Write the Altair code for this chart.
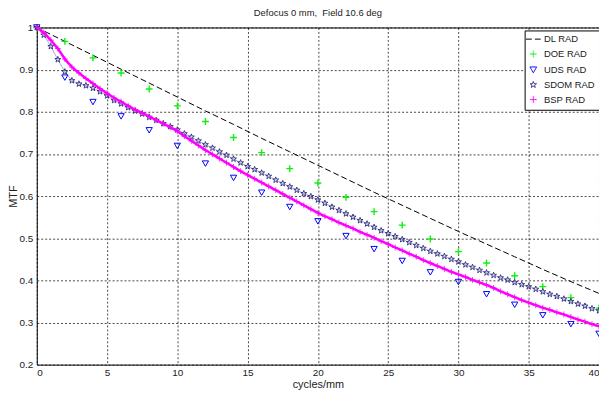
import altair as alt
import pandas as pd

series_names = ["DL RAD", "DOE RAD", "UDS RAD", "SDOM RAD", "BSP RAD"]

# Diffraction limit (dashed line), every 2 cycles/mm
dl_x = [0, 2, 4, 6, 8, 10, 12, 14, 16, 18, 20, 22, 24, 26, 28, 30, 32, 34, 36, 38, 40]
dl_y = [1.0, 0.967, 0.934, 0.901, 0.868, 0.835, 0.802, 0.770, 0.737, 0.705, 0.673,
        0.641, 0.609, 0.578, 0.547, 0.516, 0.486, 0.456, 0.426, 0.397, 0.369]

# DOE markers (+), every 2 cycles/mm
doe_x = [0, 2, 4, 6, 8, 10, 12, 14, 16, 18, 20, 22, 24, 26, 28, 30, 32, 34, 36, 38, 40]
doe_y = [1.0, 0.967, 0.928, 0.892, 0.854, 0.814, 0.777, 0.739, 0.703, 0.665, 0.631,
         0.597, 0.563, 0.531, 0.498, 0.468, 0.441, 0.411, 0.385, 0.359, 0.334]

# UDS markers (triangle down), every 2 cycles/mm
uds_x = [0, 2, 4, 6, 8, 10, 12, 14, 16, 18, 20, 22, 24, 26, 28, 30, 32, 34, 36, 38, 40]
uds_y = [1.0, 0.881, 0.823, 0.789, 0.756, 0.719, 0.677, 0.643, 0.608, 0.574, 0.540,
         0.505, 0.474, 0.446, 0.419, 0.396, 0.367, 0.342, 0.317, 0.296, 0.273]

# SDOM and BSP, every 0.5 cycles/mm
dense_x = [i * 0.5 for i in range(81)]
sdom_y = [1.0, 0.982, 0.955, 0.924, 0.895, 0.874, 0.866, 0.862, 0.856, 0.848,
          0.838, 0.827, 0.819, 0.810, 0.802, 0.795, 0.787, 0.780, 0.772, 0.765,
          0.757, 0.748, 0.740, 0.731, 0.722, 0.714, 0.705, 0.697, 0.688, 0.679,
          0.670, 0.663, 0.655, 0.647, 0.638, 0.630, 0.622, 0.614, 0.606, 0.599,
          0.591, 0.583, 0.574, 0.566, 0.558, 0.550, 0.542, 0.534, 0.526, 0.518,
          0.511, 0.504, 0.497, 0.490, 0.483, 0.476, 0.469, 0.463, 0.457, 0.450,
          0.444, 0.437, 0.431, 0.424, 0.418, 0.412, 0.406, 0.401, 0.395, 0.390,
          0.385, 0.379, 0.373, 0.367, 0.362, 0.356, 0.350, 0.344, 0.339, 0.333,
          0.328]
bsp_y = [1.0, 0.988, 0.970, 0.950, 0.925, 0.906, 0.892, 0.879, 0.867, 0.855,
         0.844, 0.833, 0.824, 0.814, 0.805, 0.797, 0.789, 0.780, 0.772, 0.763,
         0.754, 0.742, 0.731, 0.720, 0.709, 0.699, 0.689, 0.679, 0.669, 0.659,
         0.650, 0.641, 0.632, 0.623, 0.614, 0.605, 0.596, 0.587, 0.578, 0.569,
         0.560, 0.552, 0.545, 0.537, 0.530, 0.523, 0.515, 0.508, 0.501, 0.493,
         0.486, 0.478, 0.471, 0.463, 0.456, 0.448, 0.441, 0.434, 0.427, 0.420,
         0.414, 0.408, 0.401, 0.395, 0.389, 0.382, 0.374, 0.367, 0.360, 0.353,
         0.347, 0.341, 0.335, 0.330, 0.324, 0.319, 0.313, 0.307, 0.302, 0.296,
         0.291]

x_ticks = [0, 5, 10, 15, 20, 25, 30, 35, 40]
y_ticks = [0.2, 0.3, 0.4, 0.5, 0.6, 0.7, 0.8, 0.9, 1.0]

rows = []
for xs, ys, name in [(dl_x, dl_y, "DL RAD"), (doe_x, doe_y, "DOE RAD"), (uds_x, uds_y, "UDS RAD"),
                     (dense_x, sdom_y, "SDOM RAD"), (dense_x, bsp_y, "BSP RAD")]:
    for a, b in zip(xs, ys):
        rows.append({"x": a, "y": b, "series": name})
df = pd.DataFrame(rows)

dl_path = "M-2.2,0L2.2,0"
plus_path = "M-1,0L1,0M0,-1L0,1"
star_path = ("M0,-1L0.235,-0.324L0.951,-0.309L0.380,0.124L0.588,0.809L0,0.4"
             "L-0.588,0.809L-0.380,0.124L-0.951,-0.309L-0.235,-0.324Z")

colors = ["#000000", "#11ee11", "#0000ff", "#2a2a80", "#ff00ff"]
shapes = [dl_path, plus_path, "triangle-down", star_path, plus_path]
dashes = [[6, 3], [1, 0], [1, 0], [1, 0], [1, 0]]

legend = alt.Legend(title=None, orient="none", legendX=492, legendY=3,
                    direction="vertical", strokeColor="#000000", fillColor="#ffffff",
                    padding=4, labelFont="Liberation Sans", labelFontSize=9.5,
                    labelColor="#222222", symbolStrokeWidth=1, symbolSize=46,
                    rowPadding=4, labelOffset=6, cornerRadius=0)

color_enc = alt.Color("series:N", scale=alt.Scale(domain=series_names, range=colors), legend=legend)
shape_enc = alt.Shape("series:N", scale=alt.Scale(domain=series_names, range=shapes), legend=legend)
dash_enc = alt.StrokeDash("series:N", scale=alt.Scale(domain=series_names, range=dashes), legend=legend)

x_enc = alt.X("x:Q", scale=alt.Scale(domain=[0, 40], nice=False, zero=False),
              axis=alt.Axis(values=x_ticks, title="cycles/mm", format="~g"))
y_enc = alt.Y("y:Q", scale=alt.Scale(domain=[0.2, 1.0], nice=False, zero=False),
              axis=alt.Axis(values=y_ticks, title="MTF", format="~g"))

base = alt.Chart(df)


def only(name):
    return base.transform_filter(alt.datum.series == name)


line_dl = only("DL RAD").mark_line(strokeWidth=1, strokeDash=[9, 5]).encode(
    x=x_enc, y=y_enc, color=color_enc, strokeDash=dash_enc, order=alt.Order("x:Q"))
line_sdom = only("SDOM RAD").mark_line(strokeWidth=0.6, opacity=0.7).encode(
    x=x_enc, y=y_enc, color=color_enc, strokeDash=dash_enc, order=alt.Order("x:Q"))
line_bsp = only("BSP RAD").mark_line(strokeWidth=2.5).encode(
    x=x_enc, y=y_enc, color=color_enc, strokeDash=dash_enc, order=alt.Order("x:Q"))

pts_doe = only("DOE RAD").mark_point(filled=False, strokeWidth=1.4, size=48, opacity=1).encode(
    x=x_enc, y=y_enc, color=color_enc, shape=shape_enc)
pts_uds = only("UDS RAD").mark_point(filled=False, strokeWidth=1, size=40, opacity=1).encode(
    x=x_enc, y=y_enc, color=color_enc, shape=shape_enc)
pts_sdom = only("SDOM RAD").mark_point(filled=False, strokeWidth=0.9, size=40, opacity=1).encode(
    x=x_enc, y=y_enc, color=color_enc, shape=shape_enc)
pts_bsp = only("BSP RAD").mark_point(filled=False, strokeWidth=1, size=36, opacity=0.8).encode(
    x=x_enc, y=y_enc, color=color_enc, shape=shape_enc)

chart = alt.layer(line_dl, pts_doe, pts_uds, line_sdom, pts_sdom, line_bsp, pts_bsp).properties(
    width=567, height=340,
    title=alt.Title("Defocus 0 mm,\u00a0 Field 10.6 deg", fontSize=9.5, fontWeight="normal",
                    font="Liberation Sans", color="#222222", offset=4, anchor="middle",
                    frame="group"),
    autosize=alt.AutoSizeParams(type="none"),
    padding={"left": 29, "top": 18, "right": 0, "bottom": 30},
    background="#ffffff",
).configure_view(
    stroke="#000000", strokeWidth=1
).configure_axis(
    grid=True, gridColor="#000000", gridDash=[2, 2], gridWidth=0.8, gridOpacity=0.9,
    ticks=False, domain=False,
    labelFont="Liberation Sans", labelFontSize=10, labelColor="#222222",
    titleFont="Liberation Sans", titleFontSize=11, titleFontWeight="normal", titleColor="#222222",
).configure_axisX(
    labelPadding=3, titlePadding=1
).configure_axisY(
    labelPadding=4, titlePadding=1
)

chart.save("out.html", embed_options={"renderer": "svg", "actions": False})
